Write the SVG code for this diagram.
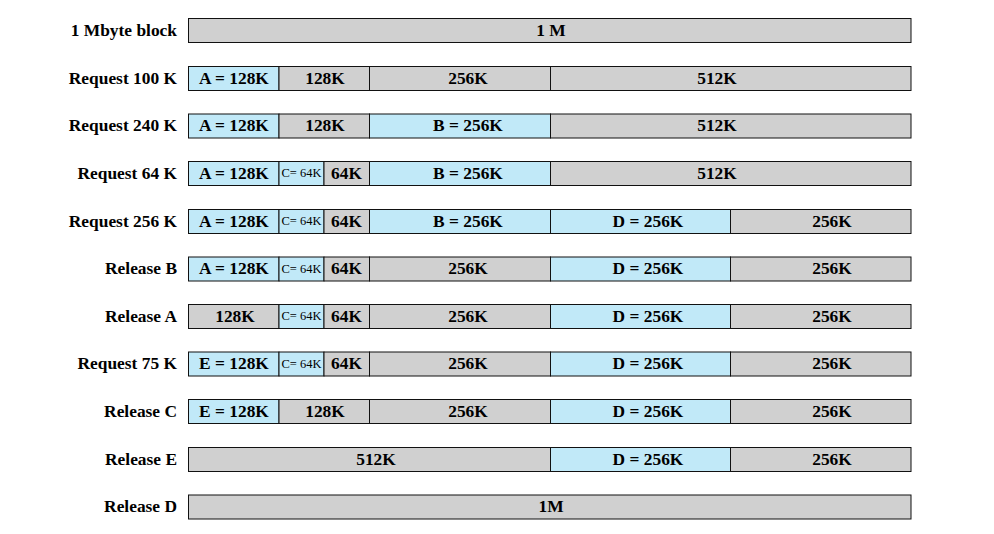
<svg xmlns="http://www.w3.org/2000/svg" width="994" height="534" viewBox="0 0 994 534">
<style>
rect{stroke:#111;stroke-width:1}
.g{fill:#d0d0d0}
.b{fill:#c1e9f8}
text{font-family:"Liberation Serif","Times New Roman",serif;font-weight:bold;font-size:17.4px;fill:#000;text-anchor:middle}
.l{text-anchor:end}
.s{font-weight:normal;font-size:12.5px}
</style>
<rect width="994" height="534" fill="#fff" style="stroke:none"/>
<g id="row1" transform="translate(0,18)">
<text class="l" x="177" y="17.5">1 Mbyte block</text>
<rect class="g" x="188.5" y="0.5" width="722.5" height="24"/>
<text x="551" y="17.5">1 M</text>
</g>
<g id="row2" transform="translate(0,66)">
<text class="l" x="177" y="17.5">Request 100 K</text>
<rect class="b" x="188.5" y="0.5" width="90.5" height="24"/>
<rect class="g" x="279" y="0.5" width="90.5" height="24"/>
<rect class="g" x="369.5" y="0.5" width="181" height="24"/>
<rect class="g" x="550.5" y="0.5" width="360.5" height="24"/>
<text x="234" y="17.5">A = 128K</text>
<text x="325" y="17.5">128K</text>
<text x="468" y="17.5">256K</text>
<text x="717" y="17.5">512K</text>
</g>
<g id="row3" transform="translate(0,113.5)">
<text class="l" x="177" y="17.5">Request 240 K</text>
<rect class="b" x="188.5" y="0.5" width="90.5" height="24"/>
<rect class="g" x="279" y="0.5" width="90.5" height="24"/>
<rect class="b" x="369.5" y="0.5" width="181" height="24"/>
<rect class="g" x="550.5" y="0.5" width="360.5" height="24"/>
<text x="234" y="17.5">A = 128K</text>
<text x="325" y="17.5">128K</text>
<text x="468" y="17.5">B = 256K</text>
<text x="717" y="17.5">512K</text>
</g>
<g id="row4" transform="translate(0,161)">
<text class="l" x="177" y="17.5">Request 64 K</text>
<rect class="b" x="188.5" y="0.5" width="90.5" height="24"/>
<rect class="b" x="279" y="0.5" width="45" height="24"/>
<rect class="g" x="324" y="0.5" width="45.5" height="24"/>
<rect class="b" x="369.5" y="0.5" width="181" height="24"/>
<rect class="g" x="550.5" y="0.5" width="360.5" height="24"/>
<text x="234" y="17.5">A = 128K</text>
<text class="s" x="301.5" y="16" textLength="40" lengthAdjust="spacingAndGlyphs">C= 64K</text>
<text x="346.5" y="17.5">64K</text>
<text x="468" y="17.5">B = 256K</text>
<text x="717" y="17.5">512K</text>
</g>
<g id="row5" transform="translate(0,209)">
<text class="l" x="177" y="17.5">Request 256 K</text>
<rect class="b" x="188.5" y="0.5" width="90.5" height="24"/>
<rect class="b" x="279" y="0.5" width="45" height="24"/>
<rect class="g" x="324" y="0.5" width="45.5" height="24"/>
<rect class="b" x="369.5" y="0.5" width="181" height="24"/>
<rect class="b" x="550.5" y="0.5" width="180" height="24"/>
<rect class="g" x="730.5" y="0.5" width="180.5" height="24"/>
<text x="234" y="17.5">A = 128K</text>
<text class="s" x="301.5" y="16" textLength="40" lengthAdjust="spacingAndGlyphs">C= 64K</text>
<text x="346.5" y="17.5">64K</text>
<text x="468" y="17.5">B = 256K</text>
<text x="648" y="17.5">D = 256K</text>
<text x="832" y="17.5">256K</text>
</g>
<g id="row6" transform="translate(0,256.5)">
<text class="l" x="177" y="17.5">Release B</text>
<rect class="b" x="188.5" y="0.5" width="90.5" height="24"/>
<rect class="b" x="279" y="0.5" width="45" height="24"/>
<rect class="g" x="324" y="0.5" width="45.5" height="24"/>
<rect class="g" x="369.5" y="0.5" width="181" height="24"/>
<rect class="b" x="550.5" y="0.5" width="180" height="24"/>
<rect class="g" x="730.5" y="0.5" width="180.5" height="24"/>
<text x="234" y="17.5">A = 128K</text>
<text class="s" x="301.5" y="16" textLength="40" lengthAdjust="spacingAndGlyphs">C= 64K</text>
<text x="346.5" y="17.5">64K</text>
<text x="468" y="17.5">256K</text>
<text x="648" y="17.5">D = 256K</text>
<text x="832" y="17.5">256K</text>
</g>
<g id="row7" transform="translate(0,304)">
<text class="l" x="177" y="17.5">Release A</text>
<rect class="g" x="188.5" y="0.5" width="90.5" height="24"/>
<rect class="b" x="279" y="0.5" width="45" height="24"/>
<rect class="g" x="324" y="0.5" width="45.5" height="24"/>
<rect class="g" x="369.5" y="0.5" width="181" height="24"/>
<rect class="b" x="550.5" y="0.5" width="180" height="24"/>
<rect class="g" x="730.5" y="0.5" width="180.5" height="24"/>
<text x="235" y="17.5">128K</text>
<text class="s" x="301.5" y="16" textLength="40" lengthAdjust="spacingAndGlyphs">C= 64K</text>
<text x="346.5" y="17.5">64K</text>
<text x="468" y="17.5">256K</text>
<text x="648" y="17.5">D = 256K</text>
<text x="832" y="17.5">256K</text>
</g>
<g id="row8" transform="translate(0,351.5)">
<text class="l" x="177" y="17.5">Request 75 K</text>
<rect class="b" x="188.5" y="0.5" width="90.5" height="24"/>
<rect class="b" x="279" y="0.5" width="45" height="24"/>
<rect class="g" x="324" y="0.5" width="45.5" height="24"/>
<rect class="g" x="369.5" y="0.5" width="181" height="24"/>
<rect class="b" x="550.5" y="0.5" width="180" height="24"/>
<rect class="g" x="730.5" y="0.5" width="180.5" height="24"/>
<text x="234" y="17.5">E = 128K</text>
<text class="s" x="301.5" y="16" textLength="40" lengthAdjust="spacingAndGlyphs">C= 64K</text>
<text x="346.5" y="17.5">64K</text>
<text x="468" y="17.5">256K</text>
<text x="648" y="17.5">D = 256K</text>
<text x="832" y="17.5">256K</text>
</g>
<g id="row9" transform="translate(0,399)">
<text class="l" x="177" y="17.5">Release C</text>
<rect class="b" x="188.5" y="0.5" width="90.5" height="24"/>
<rect class="g" x="279" y="0.5" width="90.5" height="24"/>
<rect class="g" x="369.5" y="0.5" width="181" height="24"/>
<rect class="b" x="550.5" y="0.5" width="180" height="24"/>
<rect class="g" x="730.5" y="0.5" width="180.5" height="24"/>
<text x="234" y="17.5">E = 128K</text>
<text x="325" y="17.5">128K</text>
<text x="468" y="17.5">256K</text>
<text x="648" y="17.5">D = 256K</text>
<text x="832" y="17.5">256K</text>
</g>
<g id="row10" transform="translate(0,447)">
<text class="l" x="177" y="17.5">Release E</text>
<rect class="g" x="188.5" y="0.5" width="362" height="24"/>
<rect class="b" x="550.5" y="0.5" width="180" height="24"/>
<rect class="g" x="730.5" y="0.5" width="180.5" height="24"/>
<text x="376" y="17.5">512K</text>
<text x="648" y="17.5">D = 256K</text>
<text x="832" y="17.5">256K</text>
</g>
<g id="row11" transform="translate(0,494.5)">
<text class="l" x="177" y="17.5">Release D</text>
<rect class="g" x="188.5" y="0.5" width="722.5" height="24"/>
<text x="551" y="17.5">1M</text>
</g>
<g id="connectors"></g>
</svg>
